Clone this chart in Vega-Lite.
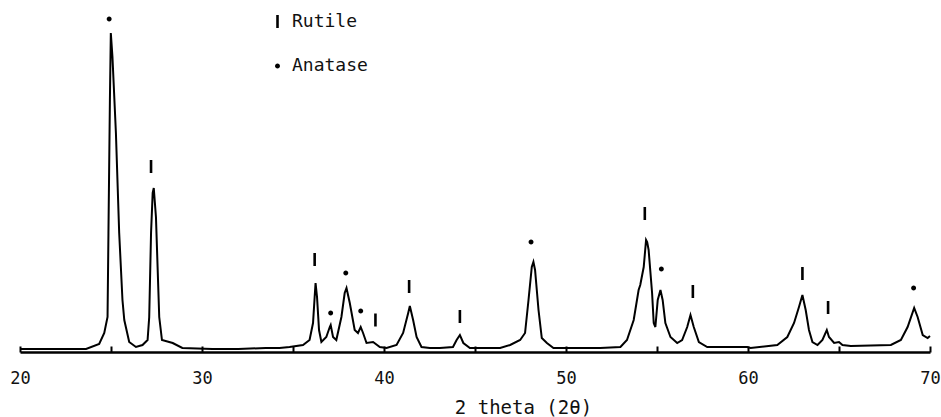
{
  "$schema": "https://vega.github.io/schema/vega-lite/v6.json",
  "autosize": {"type": "none"},
  "padding": {"left": 20, "top": 0, "right": 11, "bottom": 65},
  "width": 910,
  "height": 352,
  "background": "white",
  "config": {"view": {"stroke": null}, "font": "DejaVu Sans Mono"},
  "datasets": {
    "pattern": [
      {"t": 20.0, "I": 3}, {"t": 21.5, "I": 3}, {"t": 23.0, "I": 3}, {"t": 23.63, "I": 3},
      {"t": 24.35, "I": 8}, {"t": 24.63, "I": 19}, {"t": 24.81, "I": 35}, {"t": 24.86, "I": 119},
      {"t": 24.94, "I": 252}, {"t": 24.99, "I": 319}, {"t": 25.08, "I": 295}, {"t": 25.27, "I": 219},
      {"t": 25.45, "I": 119}, {"t": 25.63, "I": 52}, {"t": 25.73, "I": 32}, {"t": 26.0, "I": 10},
      {"t": 26.37, "I": 5}, {"t": 26.73, "I": 7}, {"t": 27.01, "I": 12}, {"t": 27.1, "I": 35},
      {"t": 27.2, "I": 119}, {"t": 27.29, "I": 159}, {"t": 27.35, "I": 164}, {"t": 27.47, "I": 135},
      {"t": 27.56, "I": 85}, {"t": 27.65, "I": 35}, {"t": 27.8, "I": 12}, {"t": 28.39, "I": 9},
      {"t": 28.92, "I": 4}, {"t": 30.57, "I": 3}, {"t": 32.0, "I": 3}, {"t": 33.5, "I": 4},
      {"t": 34.26, "I": 4}, {"t": 34.81, "I": 5}, {"t": 35.55, "I": 7}, {"t": 35.91, "I": 12},
      {"t": 36.1, "I": 29}, {"t": 36.19, "I": 55}, {"t": 36.24, "I": 69}, {"t": 36.32, "I": 55},
      {"t": 36.43, "I": 22}, {"t": 36.56, "I": 10}, {"t": 36.83, "I": 15}, {"t": 37.02, "I": 25},
      {"t": 37.07, "I": 27}, {"t": 37.2, "I": 15}, {"t": 37.38, "I": 12}, {"t": 37.66, "I": 35},
      {"t": 37.84, "I": 59}, {"t": 37.94, "I": 64}, {"t": 38.12, "I": 49}, {"t": 38.39, "I": 22},
      {"t": 38.57, "I": 19}, {"t": 38.72, "I": 25}, {"t": 38.85, "I": 19}, {"t": 39.04, "I": 9},
      {"t": 39.4, "I": 10}, {"t": 39.77, "I": 5}, {"t": 40.14, "I": 4}, {"t": 40.69, "I": 7},
      {"t": 41.05, "I": 19}, {"t": 41.33, "I": 39}, {"t": 41.42, "I": 46}, {"t": 41.6, "I": 32},
      {"t": 41.79, "I": 15}, {"t": 42.06, "I": 5}, {"t": 42.52, "I": 4}, {"t": 43.07, "I": 4},
      {"t": 43.79, "I": 5}, {"t": 43.99, "I": 12}, {"t": 44.17, "I": 17}, {"t": 44.36, "I": 9},
      {"t": 44.72, "I": 4}, {"t": 45.5, "I": 4}, {"t": 46.38, "I": 4}, {"t": 46.93, "I": 7},
      {"t": 47.48, "I": 12}, {"t": 47.75, "I": 19}, {"t": 47.94, "I": 52}, {"t": 48.12, "I": 85},
      {"t": 48.21, "I": 90}, {"t": 48.3, "I": 82}, {"t": 48.49, "I": 42}, {"t": 48.67, "I": 14},
      {"t": 48.95, "I": 9}, {"t": 49.31, "I": 4}, {"t": 50.05, "I": 4}, {"t": 51.88, "I": 4},
      {"t": 52.99, "I": 5}, {"t": 53.35, "I": 12}, {"t": 53.72, "I": 32}, {"t": 53.99, "I": 62},
      {"t": 54.08, "I": 67}, {"t": 54.27, "I": 85}, {"t": 54.4, "I": 112}, {"t": 54.46, "I": 110},
      {"t": 54.54, "I": 102}, {"t": 54.73, "I": 59}, {"t": 54.82, "I": 29}, {"t": 54.91, "I": 25},
      {"t": 55.04, "I": 52}, {"t": 55.19, "I": 62}, {"t": 55.31, "I": 52}, {"t": 55.46, "I": 29},
      {"t": 55.74, "I": 15}, {"t": 56.11, "I": 9}, {"t": 56.38, "I": 12}, {"t": 56.66, "I": 25},
      {"t": 56.84, "I": 37}, {"t": 57.02, "I": 25}, {"t": 57.3, "I": 10}, {"t": 57.76, "I": 5},
      {"t": 58.86, "I": 5}, {"t": 59.96, "I": 5}, {"t": 60.14, "I": 4}, {"t": 61.61, "I": 7},
      {"t": 62.16, "I": 15}, {"t": 62.53, "I": 29}, {"t": 62.8, "I": 45}, {"t": 62.99, "I": 57},
      {"t": 63.17, "I": 42}, {"t": 63.35, "I": 22}, {"t": 63.54, "I": 10}, {"t": 63.82, "I": 7},
      {"t": 64.09, "I": 12}, {"t": 64.33, "I": 22}, {"t": 64.45, "I": 15}, {"t": 64.73, "I": 9},
      {"t": 65.0, "I": 10}, {"t": 65.19, "I": 7}, {"t": 65.65, "I": 6}, {"t": 67.85, "I": 7},
      {"t": 68.4, "I": 12}, {"t": 68.77, "I": 25}, {"t": 69.13, "I": 44}, {"t": 69.32, "I": 35},
      {"t": 69.6, "I": 17}, {"t": 69.87, "I": 14}, {"t": 70.0, "I": 16}
    ],
    "markers": [
      {"t": 27.2, "I": 185.5, "phase": "Rutile"},
      {"t": 36.19, "I": 92.5, "phase": "Rutile"},
      {"t": 39.53, "I": 32, "phase": "Rutile"},
      {"t": 41.38, "I": 65.5, "phase": "Rutile"},
      {"t": 44.17, "I": 35.5, "phase": "Rutile"},
      {"t": 54.33, "I": 138.5, "phase": "Rutile"},
      {"t": 56.97, "I": 60.5, "phase": "Rutile"},
      {"t": 62.99, "I": 78.5, "phase": "Rutile"},
      {"t": 64.4, "I": 44.5, "phase": "Rutile"},
      {"t": 24.9, "I": 333, "phase": "Anatase"},
      {"t": 37.07, "I": 39, "phase": "Anatase"},
      {"t": 37.9, "I": 79, "phase": "Anatase"},
      {"t": 38.72, "I": 41, "phase": "Anatase"},
      {"t": 48.08, "I": 110, "phase": "Anatase"},
      {"t": 55.24, "I": 83, "phase": "Anatase"},
      {"t": 69.1, "I": 64, "phase": "Anatase"}
    ]
  },
  "layer": [
    {
      "data": {"name": "pattern"},
      "mark": {"type": "line", "color": "black", "strokeWidth": 2, "interpolate": "linear"},
      "encoding": {
        "x": {
          "field": "t", "type": "quantitative",
          "scale": {"domain": [20, 70], "nice": false, "zero": false},
          "axis": {
            "values": [20, 25, 30, 35, 40, 45, 50, 55, 60, 65, 70],
            "labelExpr": "datum.value % 10 === 0 ? datum.label : ''",
            "grid": false,
            "domainColor": "black",
            "domainWidth": 2.5,
            "tickColor": "black",
            "tickWidth": 2,
            "tickSize": -6,
            "labelPadding": 24,
            "labelFont": "DejaVu Sans Mono",
            "labelFontSize": 17,
            "labelColor": "#111",
            "labelFlush": false,
            "title": "2 theta (2θ)",
            "titleFont": "DejaVu Sans Mono",
            "titleFontSize": 19,
            "titleFontWeight": "normal",
            "titleColor": "#111",
            "titleX": 503,
            "titleY": 55,
            "titleAlign": "center",
            "titleBaseline": "middle"
          }
        },
        "y": {"field": "I", "type": "quantitative", "scale": {"domain": [0, 352], "nice": false}, "axis": null}
      }
    },
    {
      "data": {"name": "markers"},
      "mark": {"type": "point", "filled": true, "fill": "black", "strokeWidth": 0, "opacity": 1, "size": 169},
      "encoding": {
        "x": {"field": "t", "type": "quantitative"},
        "y": {"field": "I", "type": "quantitative"},
        "shape": {
          "field": "phase", "type": "nominal",
          "scale": {
            "domain": ["Rutile", "Anatase"],
            "range": ["M-0.2,-1L0.2,-1L0.2,1L-0.2,1Z", "M0.38,0A0.38,0.38,0,1,1,-0.38,0A0.38,0.38,0,1,1,0.38,0Z"]
          },
          "legend": {
            "orient": "none",
            "legendX": 248.5,
            "legendY": 12.5,
            "title": null,
            "padding": 0,
            "labelFont": "DejaVu Sans Mono",
            "labelFontSize": 18,
            "labelColor": "#111",
            "labelOffset": 5.5,
            "rowPadding": 26.5,
            "symbolSize": 169,
            "symbolFillColor": "black",
            "symbolStrokeWidth": 0,
            "symbolOpacity": 1,
            "encode": {
              "symbols": {
                "update": {
                  "fill": {"value": "black"},
                  "opacity": {"value": 1}
                }
              }
            }
          }
        }
      }
    }
  ]
}
